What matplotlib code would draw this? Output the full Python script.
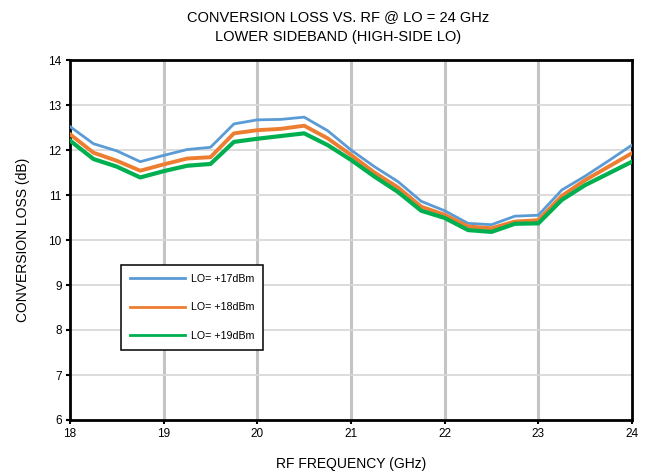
import matplotlib
matplotlib.use("Agg")
import matplotlib.pyplot as plt

plt.rcParams['font.family'] = ['Liberation Sans', 'DejaVu Sans']

freq = [18, 18.25, 18.5, 18.75, 19, 19.25, 19.5, 19.75, 20, 20.25, 20.5, 20.75,
        21, 21.25, 21.5, 21.75, 22, 22.25, 22.5, 22.75, 23, 23.25, 23.5, 23.75, 24]
lo17 = [12.52, 12.14, 11.98, 11.74, 11.88, 12.01, 12.06, 12.58, 12.67, 12.68, 12.73, 12.43,
        12.00, 11.63, 11.30, 10.86, 10.65, 10.37, 10.34, 10.53, 10.55, 11.11, 11.42, 11.76, 12.11]
lo18 = [12.35, 11.94, 11.76, 11.54, 11.68, 11.81, 11.84, 12.37, 12.44, 12.47, 12.54, 12.26,
        11.89, 11.50, 11.17, 10.74, 10.56, 10.30, 10.26, 10.41, 10.44, 10.98, 11.33, 11.63, 11.93]
lo19 = [12.21, 11.80, 11.63, 11.39, 11.53, 11.65, 11.69, 12.18, 12.25, 12.31, 12.37, 12.11,
        11.78, 11.41, 11.07, 10.65, 10.49, 10.22, 10.18, 10.36, 10.37, 10.89, 11.22, 11.48, 11.74]
labels = ["LO= +17dBm", "LO= +18dBm", "LO= +19dBm"]
xticks = [18, 19, 20, 21, 22, 23, 24]
yticks = [6, 7, 8, 9, 10, 11, 12, 13, 14]

fig = plt.figure(figsize=(6.5, 4.73), dpi=100)
ax = fig.add_axes([70/650, 1-420/473, (632-70)/650, (420-60)/473])

ax.plot(freq, lo17, color='#5B9BD5', lw=2.0, label=labels[0], zorder=3)
ax.plot(freq, lo18, color='#ED7D31', lw=2.8, label=labels[1], zorder=3)
ax.plot(freq, lo19, color='#00B050', lw=3.0, label=labels[2], zorder=3)

ax.set_xlim(18, 24)
ax.set_ylim(6, 14)
ax.set_xticks(xticks)
ax.set_yticks(yticks)
ax.set_xticklabels([str(t) for t in xticks], fontsize=8.5)
ax.set_yticklabels([str(t) for t in yticks], fontsize=8.5)
for t in xticks[1:-1]:
    ax.axvline(t, color='#C4C4C4', lw=2.2, zorder=1)
for t in yticks[1:-1]:
    ax.axhline(t, color='#D9D9D9', lw=1.3, zorder=1)
for s in ax.spines.values():
    s.set_linewidth(2.0)
    s.set_color('black')
ax.tick_params(axis='both', direction='out', length=3, width=1.5, pad=3, colors='black')

ax.set_xlabel("RF FREQUENCY (GHz)", fontsize=10, labelpad=12)
ax.set_ylabel("CONVERSION LOSS (dB)", fontsize=10, labelpad=13)
fig.text(0.52, 1-17/473, "CONVERSION LOSS VS. RF @ LO = 24 GHz", ha='center', va='center', fontsize=10.5)
fig.text(0.52, 1-37/473, "LOWER SIDEBAND (HIGH-SIDE LO)", ha='center', va='center', fontsize=10.5)

leg = ax.legend(loc='upper left', bbox_to_anchor=(121/650, 1-265/473), bbox_transform=fig.transFigure,
                borderaxespad=0, fontsize=7.7, handlelength=5.2, labelspacing=1.75, fancybox=False,
                framealpha=1, edgecolor='black', borderpad=0.8, handletextpad=0.55)
leg.get_frame().set_linewidth(1.1)
for h in leg.get_lines():
    h.set_linewidth(2.0)

fig.savefig("out.png", dpi=100)
